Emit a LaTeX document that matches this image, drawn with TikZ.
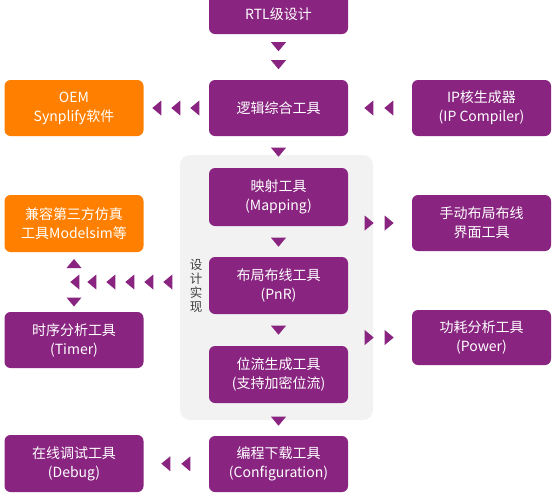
\documentclass[tikz,border=0pt]{standalone}
\usepackage{fontspec}
\setmainfont{Noto Sans CJK SC}
\usetikzlibrary{decorations.markings,calc}
\definecolor{purp}{RGB}{137,36,128}
\definecolor{orng}{RGB}{255,128,0}
\definecolor{panelgray}{RGB}{242,242,242}
\definecolor{labgray}{RGB}{64,64,64}
\tikzset{
  box/.style={rounded corners=6pt, fill=purp, text=white, align=center,
    minimum width=139pt, minimum height=56pt, inner sep=2pt,
    font=\fontsize{14}{19}\selectfont},
  obox/.style={box, fill=orng},
  tri at/.style={postaction={decorate, decoration={markings,
    mark=at position #1 with {\fill[purp] (4.5,0) -- (-4.5,7.5) -- (-4.5,-7.5) -- cycle;}}}}
}
\begin{document}
\begin{tikzpicture}[x=1pt,y=-1pt]
\useasboundingbox (0,0) rectangle (555,499);
\fill[white] (0,0) rectangle (555,499);
\clip (0,0) rectangle (555,499);
% panel
\node[rounded corners=10pt, fill=panelgray, minimum width=193pt, minimum height=265pt, inner sep=0pt] (panel) at (276.5,287.5) {};
\node[text=labgray, align=center, font=\fontsize{12.5}{14}\selectfont, inner sep=0pt] (lab) at (196,285.5) {设\\计\\实\\现};
% boxes
\node[box, minimum height=40pt] (rtl) at (278.5,14) {RTL级设计};
\node[box] (syn) at (278.5,108) {逻辑综合工具};
\node[obox] (oem) at (74,108) {OEM\\Synplify软件};
\node[box] (ip) at (481.5,108) {IP核生成器\\(IP Compiler)};
\node[box, minimum height=58pt] (map) at (278.5,197) {映射工具\\(Mapping)};
\node[box, minimum height=57pt] (pnr) at (278.5,285.5) {布局布线工具\\(PnR)};
\node[box, minimum height=57pt] (bit) at (278.5,374.5) {位流生成工具\\(支持加密位流)};
\node[box] (cfg) at (278.5,464) {编程下载工具\\(Configuration)};
\node[box] (manual) at (481.5,223) {手动布局布线\\界面工具};
\node[box, minimum height=55pt] (power) at (481.5,337.5) {功耗分析工具\\(Power)};
\node[obox, minimum height=57pt] (model) at (74,223.5) {兼容第三方仿真\\工具Modelsim等};
\node[box] (timer) at (74,340) {时序分析工具\\(Timer)};
\node[box, minimum height=57pt] (debug) at (74,463.5) {在线调试工具\\(Debug)};
\coordinate (split) at ($(model.south)!0.5!(timer.north)$);
% triangle chains
\path[tri at=12.5pt, tri at=30.5pt] (rtl.south) -- (syn.north);
\path[tri at=16pt] (syn.south) -- (map.north);
\path[tri at=16pt] (map.south) -- (pnr.north);
\path[tri at=16pt] (pnr.south) -- (bit.north);
\path[tri at=18pt] (bit.south) -- (cfg.north);
\path[tri at=14pt, tri at=33pt, tri at=52pt] (syn.west) -- (oem.east);
\path[tri at=23pt, tri at=43pt] (ip.west) -- (syn.east);
\path[tri at=21pt, tri at=41pt] (map.east |- manual.west) -- (manual.west);
\path[tri at=21pt, tri at=41pt] (bit.east |- power.west) -- (power.west);
\path[tri at=41pt, tri at=60pt, tri at=79pt, tri at=98pt, tri at=117pt, tri at=134pt] (split -| pnr.west) -- (split);
\path[tri at=18.5pt] (split) -- (model.south);
\path[tri at=20pt] (split) -- (timer.north);
\path[tri at=23pt, tri at=43pt] (cfg.west) -- (debug.east);
\end{tikzpicture}
\end{document}
